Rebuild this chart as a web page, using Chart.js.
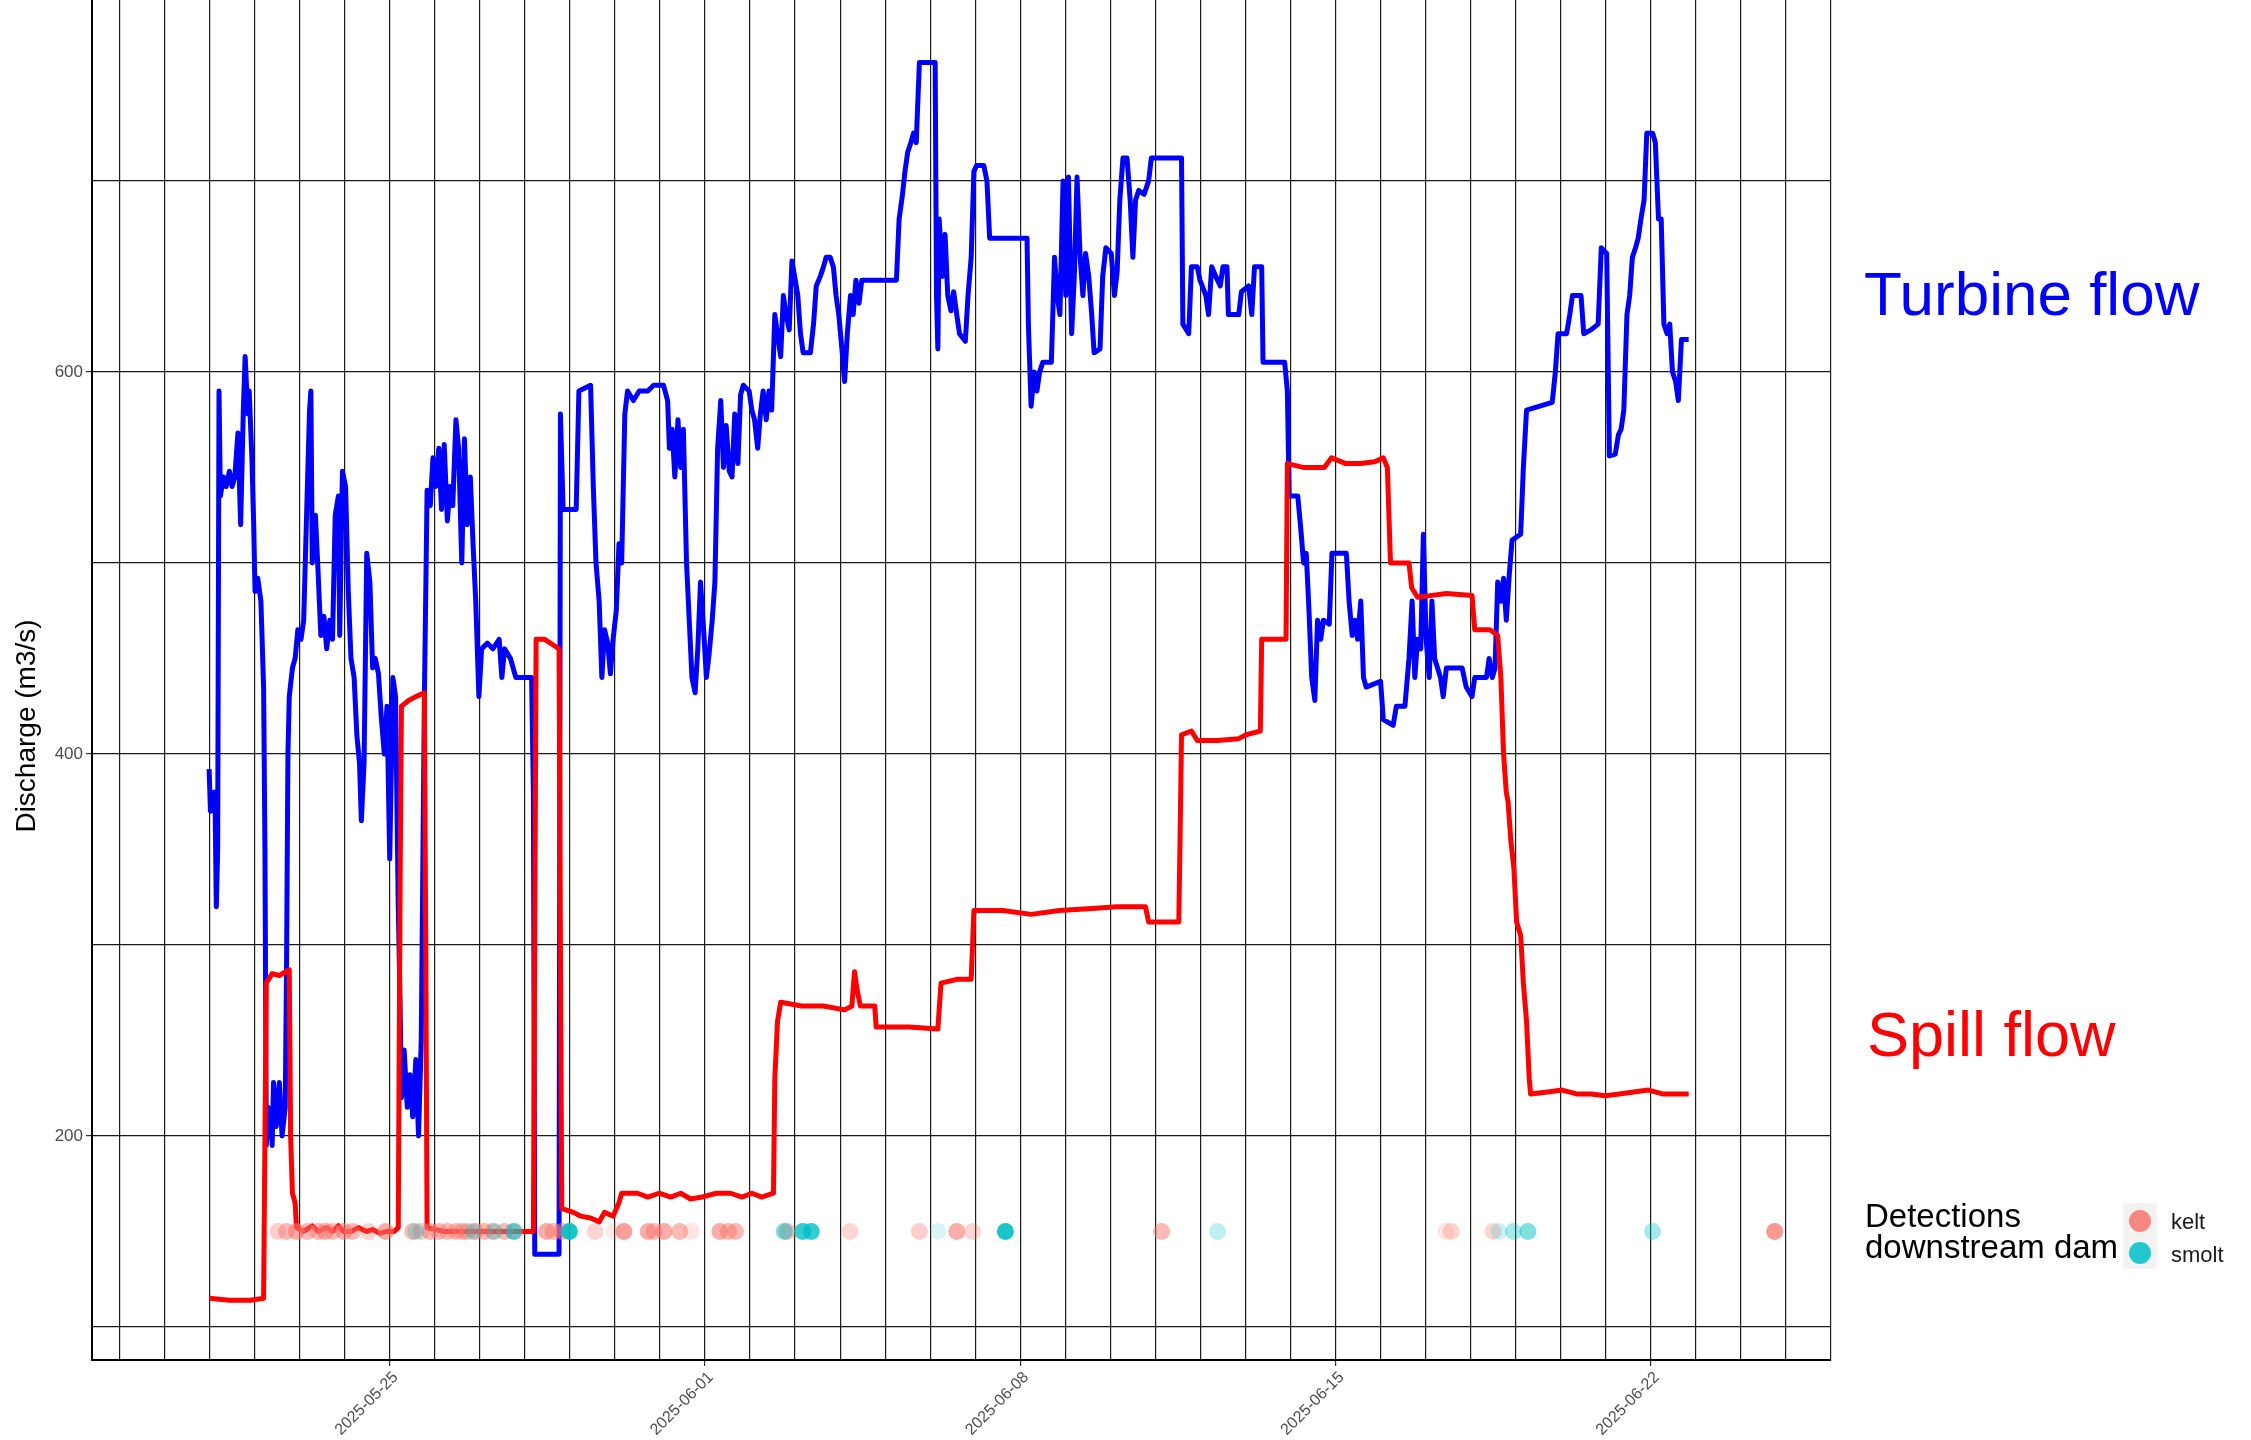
<!DOCTYPE html>
<html>
<head>
<meta charset="utf-8">
<title>Turbine and spill flow</title>
<script src="https://cdn.jsdelivr.net/npm/chart.js@4.4.1/dist/chart.umd.min.js"></script>
<style>
  html, body { margin: 0; padding: 0; background: #fff; }
  #wrap { position: relative; width: 2251px; height: 1440px; }
</style>
</head>
<body>
<div id="wrap"><canvas id="flowChart" width="2251" height="1440"></canvas></div>
<script>
// x = days since 2025-05-25 00:00, y = discharge in m3/s
const turbine = [
  [-4.01,392],[-3.98,370],[-3.95,380],[-3.92,372],[-3.88,380],[-3.85,320],[-3.82,350],[-3.79,590],[-3.76,535],[-3.69,545],
  [-3.63,540],[-3.56,548],[-3.50,540],[-3.44,545],[-3.37,568],[-3.31,520],[-3.25,580],[-3.21,608],[-3.15,578],[-3.12,590],
  [-3.06,555],[-3.02,520],[-2.99,485],[-2.93,492],[-2.86,480],[-2.80,435],[-2.77,350],[-2.74,195],[-2.70,215],[-2.67,200],
  [-2.64,212],[-2.61,195],[-2.58,228],[-2.52,205],[-2.45,228],[-2.39,200],[-2.32,215],[-2.29,290],[-2.26,400],[-2.23,430],
  [-2.16,445],[-2.10,450],[-2.04,465],[-1.97,460],[-1.91,470],[-1.84,530],[-1.78,580],[-1.75,590],[-1.72,500],[-1.65,525],
  [-1.59,495],[-1.53,462],[-1.46,472],[-1.40,455],[-1.33,470],[-1.27,460],[-1.21,525],[-1.14,535],[-1.11,462],[-1.05,548],
  [-0.98,540],[-0.92,485],[-0.86,450],[-0.79,440],[-0.73,410],[-0.67,395],[-0.63,365],[-0.57,395],[-0.51,505],[-0.44,490],
  [-0.38,445],[-0.32,450],[-0.25,442],[-0.19,420],[-0.12,400],[-0.06,425],[0.00,345],[0.07,440],[0.13,430],[0.19,320],
  [0.23,270],[0.26,220],[0.32,245],[0.39,215],[0.45,232],[0.51,210],[0.58,240],[0.64,200],[0.70,250],[0.77,430],
  [0.83,538],[0.90,530],[0.96,555],[1.02,540],[1.09,560],[1.15,528],[1.21,562],[1.28,522],[1.34,540],[1.40,530],
  [1.47,575],[1.53,560],[1.60,500],[1.66,565],[1.72,520],[1.79,545],[1.85,510],[1.91,480],[1.98,430],[2.04,455],
  [2.17,458],[2.29,455],[2.43,460],[2.49,440],[2.55,455],[2.68,450],[2.80,440],[2.99,440],[3.15,440],[3.19,380],
  [3.22,138],[3.76,138],[3.79,578],[3.85,528],[4.14,528],[4.20,590],[4.46,593],[4.52,540],[4.58,500],[4.65,480],
  [4.71,440],[4.77,465],[4.84,458],[4.90,442],[4.96,460],[5.03,475],[5.09,510],[5.15,500],[5.22,578],[5.28,590],
  [5.41,585],[5.54,590],[5.73,590],[5.86,593],[6.08,593],[6.17,585],[6.21,560],[6.27,570],[6.33,545],[6.40,575],
  [6.46,550],[6.52,570],[6.59,500],[6.65,470],[6.71,440],[6.78,432],[6.84,455],[6.90,490],[6.97,465],[7.03,440],
  [7.09,452],[7.16,470],[7.22,490],[7.28,560],[7.35,585],[7.41,550],[7.47,572],[7.54,548],[7.60,545],[7.66,578],
  [7.73,552],[7.79,588],[7.85,593],[7.98,590],[8.04,580],[8.10,575],[8.17,560],[8.23,578],[8.29,590],[8.36,575],
  [8.42,590],[8.48,580],[8.55,630],[8.61,620],[8.68,608],[8.74,640],[8.80,630],[8.87,622],[8.93,658],[8.99,650],
  [9.06,640],[9.12,620],[9.18,610],[9.34,610],[9.41,625],[9.47,645],[9.56,650],[9.63,655],[9.69,660],[9.78,660],
  [9.85,655],[9.91,640],[9.97,630],[10.04,612],[10.10,595],[10.16,620],[10.23,640],[10.29,630],[10.35,648],[10.42,636],
  [10.48,648],[11.25,648],[11.31,680],[11.38,692],[11.44,705],[11.50,715],[11.57,720],[11.63,725],[11.69,720],[11.76,762],
  [12.11,762],[12.14,640],[12.17,612],[12.20,680],[12.27,650],[12.33,672],[12.39,640],[12.46,632],[12.52,642],[12.59,630],
  [12.65,620],[12.78,616],[12.84,640],[12.91,660],[12.97,705],[13.03,708],[13.19,708],[13.26,700],[13.32,670],[14.15,670],
  [14.18,625],[14.24,582],[14.31,600],[14.37,590],[14.43,600],[14.50,605],[14.69,605],[14.76,660],[14.82,640],[14.88,630],
  [14.95,700],[15.01,640],[15.07,702],[15.14,620],[15.20,650],[15.26,702],[15.33,660],[15.39,640],[15.45,662],[15.52,650],
  [15.58,632],[15.64,610],[15.77,612],[15.83,650],[15.90,665],[16.02,662],[16.09,640],[16.15,652],[16.21,690],[16.28,712],
  [16.37,712],[16.44,690],[16.50,660],[16.56,690],[16.63,695],[16.75,693],[16.85,700],[16.91,712],[17.58,712],[17.61,625],
  [17.74,620],[17.80,655],[17.93,655],[17.99,648],[18.12,640],[18.18,630],[18.25,655],[18.34,650],[18.44,645],[18.50,655],
  [18.59,655],[18.62,630],[18.85,630],[18.91,642],[19.07,645],[19.14,630],[19.20,655],[19.36,655],[19.39,605],[19.87,605],
  [19.93,590],[19.97,535],[20.16,535],[20.22,520],[20.29,500],[20.35,505],[20.41,475],[20.47,440],[20.54,428],[20.60,470],
  [20.67,460],[20.73,470],[20.86,468],[20.92,505],[21.24,505],[21.30,480],[21.37,462],[21.43,470],[21.49,460],[21.56,480],
  [21.62,440],[21.68,435],[22.00,438],[22.06,418],[22.28,415],[22.35,425],[22.54,425],[22.63,450],[22.70,480],[22.76,440],
  [22.82,460],[22.89,455],[22.95,515],[23.01,460],[23.08,440],[23.14,480],[23.20,450],[23.33,440],[23.39,430],[23.46,445],
  [23.81,445],[23.90,435],[24.03,430],[24.09,440],[24.35,440],[24.41,450],[24.48,440],[24.54,445],[24.60,490],[24.67,480],
  [24.73,492],[24.79,470],[24.86,495],[24.92,512],[25.11,515],[25.17,550],[25.24,580],[25.81,584],[25.88,600],[25.94,620],
  [26.13,620],[26.20,630],[26.26,640],[26.45,640],[26.51,620],[26.67,622],[26.83,625],[26.90,665],[27.02,662],[27.08,556],
  [27.21,557],[27.28,567],[27.34,570],[27.40,580],[27.47,630],[27.53,640],[27.59,660],[27.66,665],[27.72,670],[27.78,680],
  [27.85,690],[27.91,725],[28.04,725],[28.10,720],[28.17,680],[28.23,680],[28.29,625],[28.36,620],[28.42,625],[28.48,600],
  [28.55,595],[28.61,585],[28.68,617],[28.84,617]
];

const spill = [
  [-4.01,115],[-3.56,114],[-3.09,114],[-2.80,115],[-2.77,200],[-2.74,280],[-2.61,285],[-2.45,284],[-2.23,287],[-2.20,200],
  [-2.16,170],[-2.10,165],[-2.07,152],[-1.91,150],[-1.72,153],[-1.59,150],[-1.40,152],[-1.27,150],[-1.14,153],[-1.02,150],
  [-0.86,150],[-0.70,152],[-0.51,150],[-0.38,151],[-0.22,149],[-0.06,150],[0.10,150],[0.19,152],[0.23,330],[0.26,425],
  [0.42,428],[0.58,430],[0.77,432],[0.80,300],[0.83,152],[1.21,150],[1.53,150],[1.85,150],[2.17,150],[2.49,150],
  [2.80,150],[3.19,150],[3.22,300],[3.25,460],[3.44,460],[3.63,457],[3.76,455],[3.79,300],[3.82,162],[4.08,160],
  [4.24,158],[4.46,157],[4.65,155],[4.77,160],[4.96,158],[5.09,165],[5.15,170],[5.50,170],[5.73,168],[5.98,170],
  [6.24,168],[6.46,170],[6.68,167],[6.93,168],[7.25,170],[7.57,170],[7.82,168],[8.04,170],[8.26,168],[8.52,170],
  [8.55,230],[8.61,260],[8.68,270],[9.15,268],[9.63,268],[10.10,266],[10.26,268],[10.32,286],[10.38,276],[10.45,268],
  [10.77,268],[10.80,257],[11.53,257],[12.17,256],[12.24,280],[12.59,282],[12.91,282],[12.97,318],[13.61,318],[14.24,316],
  [14.87,318],[15.51,319],[16.15,320],[16.78,320],[16.85,312],[17.52,312],[17.55,360],[17.58,410],[17.80,412],[17.93,407],
  [18.37,407],[18.85,408],[19.01,410],[19.33,412],[19.36,460],[19.90,460],[19.93,552],[20.28,550],[20.75,550],[20.91,555],
  [21.23,552],[21.55,552],[21.87,553],[22.06,555],[22.15,550],[22.22,500],[22.50,500],[22.63,500],[22.69,487],[22.82,482],
  [23.14,483],[23.46,484],[24.03,483],[24.09,465],[24.43,465],[24.60,462],[24.67,440],[24.73,400],[24.79,380],[24.83,375],
  [24.89,355],[24.96,340],[25.02,312],[25.11,305],[25.17,280],[25.24,260],[25.30,230],[25.33,222],[25.71,223],[26.03,224],
  [26.35,222],[26.67,222],[26.99,221],[27.30,222],[27.62,223],[27.95,224],[28.26,222],[28.61,222],[28.84,222]
];

// detections downstream of the dam: [day, weight]
const keltDetections = [
  [-2.48,0.35],[-2.29,0.5],[-2.07,0.6],[-1.82,0.5],[-1.59,0.5],[-1.43,0.6],[-1.27,0.5],[-1.02,0.6],[-0.83,0.5],[-0.47,0.3],
  [-0.09,0.6],[0.51,0.5],[0.70,0.4],[0.90,0.5],[1.09,0.5],[1.28,0.5],[1.47,0.5],[1.60,0.5],[1.72,0.5],[1.91,0.5],
  [2.10,0.5],[2.29,0.5],[2.55,0.5],[2.78,0.4],[3.48,0.6],[3.63,0.5],[3.82,0.5],[4.56,0.3],[4.97,0.15],[5.20,0.7],
  [5.74,0.6],[5.87,0.5],[6.09,0.6],[6.44,0.5],[6.69,0.2],[7.33,0.6],[7.52,0.5],[7.68,0.5],[8.82,0.5],[10.22,0.3],
  [11.76,0.35],[12.59,0.6],[12.94,0.3],[17.14,0.5],[23.45,0.2],[23.57,0.3],[24.50,0.3],[30.75,0.75]
];
const smoltDetections = [
  [0.58,0.3],[1.85,0.3],[2.33,0.3],[2.75,0.6],[3.99,0.9],[8.76,0.5],[9.17,0.8],[9.36,0.8],[12.17,0.15],[13.67,0.9],
  [18.38,0.25],[24.63,0.2],[24.95,0.35],[25.27,0.5],[28.04,0.35]
];
const detectionLevel = 150;

const xTickLabels = ["2025-05-25", "2025-06-01", "2025-06-08", "2025-06-15", "2025-06-22"];
const yTickLabels = [200, 400, 600];
const yGridValues = [100, 200, 300, 400, 500, 600, 700];

const KELT = "248,118,109";
const SMOLT = "0,191,196";
const FONT = "'Liberation Sans', Arial, sans-serif";

// weekly labels sit on day 0, 7, 14...
function weekLabel(v) {
  const rounded = Math.round(v);
  if (Math.abs(v - rounded) > 1e-6 || rounded % 7 !== 0) return "";
  return xTickLabels[rounded / 7] || "";
}

const sideLabels = {
  id: "sideLabels",
  afterDraw(chart) {
    const ctx = chart.ctx;
    ctx.save();
    ctx.textBaseline = "alphabetic";
    ctx.textAlign = "left";

    ctx.font = "62px " + FONT;
    ctx.fillStyle = "#0000FF";
    ctx.fillText("Turbine flow", 1864, 315);
    ctx.font = "63px " + FONT;
    ctx.fillStyle = "#FF0000";
    ctx.fillText("Spill flow", 1867, 1056);

    ctx.fillStyle = "#000";
    ctx.font = "33px " + FONT;
    ctx.fillText("Detections", 1865, 1227);
    ctx.fillText("downstream dam", 1865, 1258);

    // legend keys
    ctx.fillStyle = "#F2F2F2";
    ctx.fillRect(2123, 1203, 34, 66);
    [[KELT, 1221], [SMOLT, 1253]].forEach(([rgb, cy]) => {
      ctx.beginPath();
      ctx.arc(2140, cy, 11, 0, Math.PI * 2);
      ctx.fillStyle = "rgba(" + rgb + ",0.85)";
      ctx.fill();
    });
    ctx.fillStyle = "#1a1a1a";
    ctx.font = "22px " + FONT;
    ctx.fillText("kelt", 2171, 1229);
    ctx.fillText("smolt", 2171, 1262);

    // y axis title
    ctx.translate(27, 726);
    ctx.rotate(-Math.PI / 2);
    ctx.textAlign = "center";
    ctx.textBaseline = "middle";
    ctx.fillStyle = "#000";
    ctx.font = "28px " + FONT;
    ctx.fillText("Discharge (m3/s)", 0, 0);
    ctx.restore();
  }
};

Chart.defaults.font.family = FONT;

new Chart(document.getElementById("flowChart"), {
  type: "line",
  data: {
    datasets: [
      {
        type: "scatter",
        label: "smolt",
        data: smoltDetections.map(([d]) => ({ x: d, y: detectionLevel })),
        pointRadius: 8.5,
        pointHoverRadius: 8.5,
        borderWidth: 0,
        backgroundColor: (c) => "rgba(" + SMOLT + "," + (smoltDetections[c.dataIndex] || [0, 0])[1] + ")"
      },
      {
        type: "scatter",
        label: "kelt",
        data: keltDetections.map(([d]) => ({ x: d, y: detectionLevel })),
        pointRadius: 8.5,
        pointHoverRadius: 8.5,
        borderWidth: 0,
        backgroundColor: (c) => "rgba(" + KELT + "," + (keltDetections[c.dataIndex] || [0, 0])[1] + ")"
      },
      {
        label: "Spill flow",
        data: spill.map(([d, v]) => ({ x: d, y: v })),
        borderColor: "#FF0000",
        borderWidth: 5,
        pointRadius: 0,
        tension: 0,
        borderJoinStyle: "round",
        fill: false
      },
      {
        label: "Turbine flow",
        data: turbine.map(([d, v]) => ({ x: d, y: v })),
        borderColor: "#0000FF",
        borderWidth: 5,
        pointRadius: 0,
        tension: 0,
        borderJoinStyle: "round",
        fill: false
      }
    ]
  },
  options: {
    responsive: false,
    animation: false,
    events: [],
    layout: { autoPadding: false, padding: { left: 0, right: 420, top: 0, bottom: 0 } },
    plugins: { legend: { display: false }, tooltip: { enabled: false } },
    scales: {
      x: {
        type: "linear",
        min: -6.61,
        max: 32,
        afterBuildTicks(scale) {
          const ticks = [];
          for (let d = -6; d <= 32; d++) ticks.push({ value: d });
          scale.ticks = ticks;
        },
        afterFit(scale) {
          scale.height = 80;
          scale.paddingLeft = 0;
          scale.paddingRight = 0;
        },
        ticks: {
          autoSkip: false,
          minRotation: 45,
          maxRotation: 45,
          padding: 2,
          labelOffset: 6,
          color: "#4d4d4d",
          font: { size: 16 },
          callback: (v) => weekLabel(v)
        },
        grid: {
          color: "#1a1a1a",
          lineWidth: 1.2,
          tickLength: 6,
          tickColor: (c) => (c.tick && weekLabel(c.tick.value) !== "" ? "#333" : "rgba(0,0,0,0)")
        },
        border: { display: true, color: "#000", width: 2 }
      },
      y: {
        type: "linear",
        min: 82.7,
        max: 794.7,
        afterBuildTicks(scale) {
          scale.ticks = yGridValues.map((v) => ({ value: v }));
        },
        afterFit(scale) {
          scale.width = 92;
          scale.paddingTop = 0;
          scale.paddingBottom = 0;
        },
        ticks: {
          padding: 3,
          color: "#4d4d4d",
          font: { size: 17 },
          callback: (v) => (yTickLabels.includes(v) ? String(v) : "")
        },
        grid: {
          color: "#1a1a1a",
          lineWidth: 1.2,
          tickLength: 6,
          tickColor: (c) => (c.tick && yTickLabels.includes(c.tick.value) ? "#333" : "rgba(0,0,0,0)")
        },
        border: { display: true, color: "#000", width: 2 }
      }
    }
  },
  plugins: [sideLabels]
});
</script>
</body>
</html>
